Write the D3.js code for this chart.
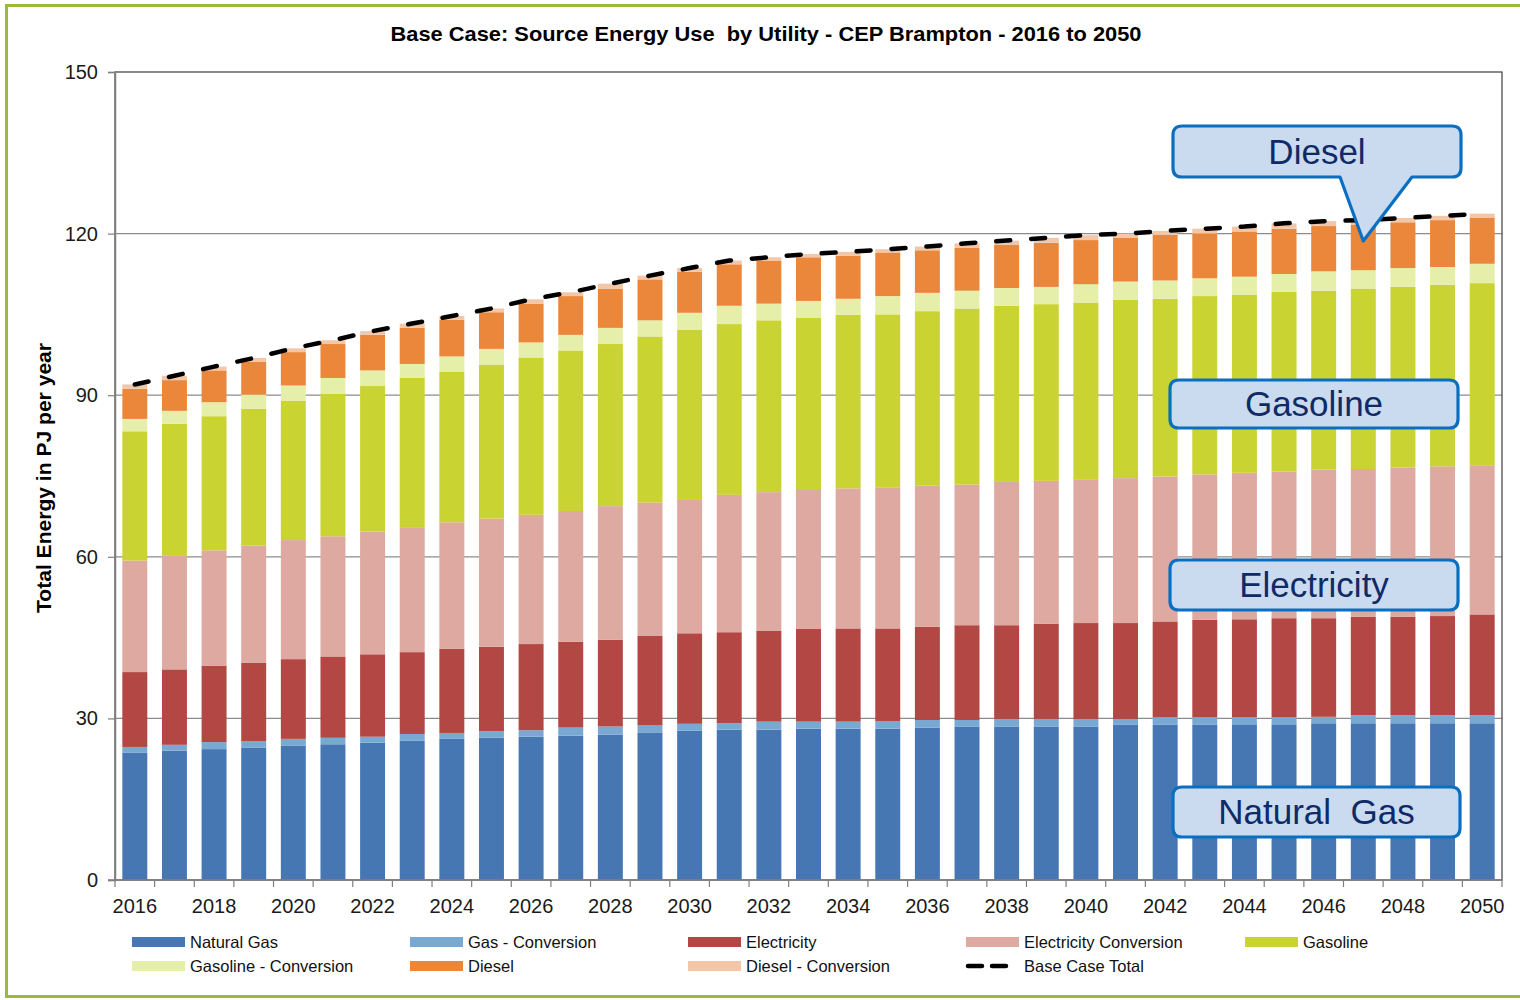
<!DOCTYPE html>
<html>
<head>
<meta charset="utf-8">
<script src="https://cdn.jsdelivr.net/npm/d3@7"></script>
<style>
  html, body { margin: 0; padding: 0; background: #fff; }
  svg { display: block; font-family: "Liberation Sans", Arial, sans-serif; }
</style>
</head>
<body>
<svg id="chart" width="1520" height="1000"></svg>
<script>
// Years shown on the category axis
const years = d3.range(2016, 2051);

// Source energy by utility, PJ per year
const naturalGas = [23.6,24.0,24.3,24.6,24.9,25.2,25.5,25.9,26.2,26.4,26.6,26.8,27.0,27.4,27.7,27.9,27.9,28.1,28.1,28.1,28.3,28.5,28.5,28.5,28.5,28.8,28.8,28.8,28.9,28.9,29.1,29.1,29.1,29.1,29.1];
const gasConversion = [1.1,1.1,1.3,1.2,1.3,1.2,1.1,1.2,1.1,1.2,1.2,1.5,1.5,1.3,1.3,1.2,1.5,1.3,1.3,1.4,1.4,1.2,1.4,1.4,1.4,1.1,1.4,1.4,1.3,1.3,1.2,1.5,1.5,1.5,1.5];
const electricity = [13.9,14.0,14.2,14.5,14.8,15.1,15.3,15.2,15.6,15.7,16.0,15.9,16.1,16.6,16.8,16.9,16.9,17.2,17.3,17.2,17.3,17.6,17.4,17.7,17.8,17.8,17.8,18.1,18.2,18.4,18.3,18.3,18.3,18.4,18.7];
const electricityConversion = [20.7,21.2,21.4,21.8,22.1,22.3,22.8,23.2,23.5,23.8,24.0,24.3,24.8,24.8,24.9,25.5,25.7,25.8,26.0,26.2,26.2,26.1,26.6,26.5,26.7,26.9,26.9,27.0,27.2,27.2,27.6,27.4,27.7,27.8,27.7];
const gasoline = [24.0,24.4,24.9,25.4,25.9,26.5,27.0,27.7,28.0,28.6,29.2,29.8,30.1,30.8,31.4,31.7,31.9,32.0,32.2,32.1,32.4,32.7,32.7,32.8,32.8,33.1,33.0,33.1,33.0,33.4,33.2,33.5,33.5,33.7,33.8];
const gasolineConversion = [2.3,2.4,2.6,2.6,2.8,2.9,2.9,2.6,2.8,2.9,2.8,2.9,3.0,3.0,3.2,3.4,3.1,3.1,3.0,3.4,3.4,3.3,3.3,3.2,3.4,3.4,3.4,3.3,3.4,3.3,3.6,3.4,3.5,3.3,3.6];
const diesel = [5.6,5.7,5.9,6.1,6.2,6.3,6.6,6.7,6.8,6.8,7.2,7.2,7.3,7.6,7.6,7.7,8.0,8.1,8.0,8.1,7.9,8.0,8.0,8.2,8.2,8.1,8.5,8.3,8.4,8.4,8.4,8.4,8.5,8.7,8.5];
const dieselConversion = [0.8,0.8,0.7,0.7,0.7,0.7,0.7,0.8,0.7,0.7,0.8,0.7,0.9,0.7,0.7,0.7,0.6,0.6,0.7,0.6,0.7,0.8,0.8,0.9,0.9,0.8,0.7,0.9,0.9,1.0,0.9,0.9,0.8,0.8,0.8];

// Series names in stacking order, with their fill colours
const seriesNames = ["Natural Gas","Gas - Conversion","Electricity","Electricity Conversion","Gasoline","Gasoline - Conversion","Diesel","Diesel - Conversion"];
const seriesValues = [naturalGas, gasConversion, electricity, electricityConversion, gasoline, gasolineConversion, diesel, dieselConversion];
const seriesColors = ["#4677B3","#79A9D3","#B24744","#DDA9A0","#C9D331","#E6EFA9","#EB873B","#F2C6A6"];

const yTicks = [0, 30, 60, 90, 120, 150];
const xLabelYears = years.filter(y => y % 2 === 0);

const titleText = "Base Case: Source Energy Use  by Utility - CEP Brampton - 2016 to 2050";
const yTitleText = "Total Energy in PJ per year";
const totalName = "Base Case Total";

// Callout labels drawn over the plot
const callouts = [
  { text: "Diesel", x0: 1173, y0: 126, x1: 1461, y1: 177, pointer: { bx0: 1340, bx1: 1412, year: 2047 } },
  { text: "Gasoline", x0: 1170, y0: 380, x1: 1458, y1: 428 },
  { text: "Electricity", x0: 1170, y0: 560, x1: 1458, y1: 610 },
  { text: "Natural  Gas", x0: 1173, y0: 787, x1: 1460, y1: 837 }
];

// Table built from the arrays for d3.stack
const table = years.map((yr, i) => {
  const row = { year: yr };
  seriesNames.forEach((n, k) => row[n] = seriesValues[k][i]);
  row.total = d3.sum(seriesValues, s => s[i]);
  return row;
});

const svg = d3.select("#chart");
const plot = { left: 115, right: 1502, top: 72, bottom: 880 };

// Outer frame
svg.append("rect")
  .attr("x", 6.5).attr("y", 5.5)
  .attr("width", 1530).attr("height", 991)
  .attr("fill", "none").attr("stroke", "#9BBB34").attr("stroke-width", 3);

const x = d3.scaleBand().domain(years).range([plot.left, plot.right])
  .paddingInner(0.37).paddingOuter(0.185);
const y = d3.scaleLinear().domain([0, 150]).range([plot.bottom, plot.top]);
const step = x.step();

// Horizontal gridlines
svg.append("g").selectAll("line")
  .data(yTicks.filter(t => t > 0 && t < 150))
  .join("line")
  .attr("x1", plot.left).attr("x2", plot.right)
  .attr("y1", d => y(d)).attr("y2", d => y(d))
  .attr("stroke", "#8C8C8C").attr("stroke-width", 1.2);

// Plot-area border
svg.append("rect")
  .attr("x", plot.left).attr("y", y(150))
  .attr("width", plot.right - plot.left).attr("height", y(0) - y(150))
  .attr("fill", "none").attr("stroke", "#3c3c3c").attr("stroke-width", 1.2);

// Stacked bars
const stacked = d3.stack().keys(seriesNames)(table);
svg.append("g").selectAll("g")
  .data(stacked)
  .join("g")
  .attr("fill", (d, i) => seriesColors[i])
  .selectAll("rect")
  .data(d => d)
  .join("rect")
  .attr("x", d => x(d.data.year))
  .attr("width", x.bandwidth())
  .attr("y", d => y(d[1]))
  .attr("height", d => y(d[0]) - y(d[1]));

// Y axis
const yAxis = svg.append("g")
  .attr("transform", `translate(${plot.left},0)`)
  .call(d3.axisLeft(y).tickValues(yTicks).tickSize(7).tickPadding(10));
yAxis.select(".domain").attr("stroke", "#7f7f7f").attr("stroke-width", 1.5);
yAxis.selectAll(".tick line").attr("stroke", "#7f7f7f").attr("stroke-width", 1.2);
yAxis.selectAll(".tick text")
  .attr("font-size", 20).attr("fill", "#1a1a1a")
  .attr("font-family", "Liberation Sans, Arial, sans-serif");

// X axis: baseline, boundary ticks, labels for even years
const xg = svg.append("g");
xg.append("line")
  .attr("x1", plot.left - 7).attr("x2", plot.right)
  .attr("y1", plot.bottom).attr("y2", plot.bottom)
  .attr("stroke", "#7f7f7f").attr("stroke-width", 1.5);
const boundaries = years.map(yr => x(yr) + x.bandwidth() / 2 - step / 2).concat([plot.right]);
xg.selectAll("line.tk")
  .data(boundaries)
  .join("line")
  .attr("class", "tk")
  .attr("x1", d => d).attr("x2", d => d)
  .attr("y1", plot.bottom).attr("y2", plot.bottom + 7)
  .attr("stroke", "#7f7f7f").attr("stroke-width", 1.2);
xg.selectAll("text")
  .data(xLabelYears)
  .join("text")
  .attr("x", d => x(d) + x.bandwidth() / 2)
  .attr("y", plot.bottom + 33)
  .attr("text-anchor", "middle")
  .attr("font-size", 20).attr("fill", "#1a1a1a")
  .text(d => d);

// Base case total line
const line = d3.line()
  .x(d => x(d.year) + x.bandwidth() / 2)
  .y(d => y(d.total));
svg.append("path")
  .datum(table)
  .attr("d", line)
  .attr("fill", "none")
  .attr("stroke", "#000")
  .attr("stroke-width", 4.5)
  .attr("stroke-linecap", "round")
  .attr("stroke-dasharray", "14,21");

// Title
svg.append("text")
  .attr("x", 766).attr("y", 41)
  .attr("text-anchor", "middle")
  .attr("font-size", 21).attr("font-weight", "bold")
  .attr("fill", "#000")
  .attr("textLength", 751)
  .attr("lengthAdjust", "spacingAndGlyphs")
  .style("white-space", "pre")
  .text(titleText);

// Y axis title
svg.append("text")
  .attr("transform", "translate(51,478) rotate(-90)")
  .attr("text-anchor", "middle")
  .attr("font-size", 20.5).attr("font-weight", "bold")
  .attr("fill", "#000")
  .attr("textLength", 270)
  .attr("lengthAdjust", "spacingAndGlyphs")
  .text(yTitleText);

// Callouts
const cg = svg.append("g");
callouts.forEach(c => {
  const r = 9;
  let path;
  if (c.pointer) {
    const tipX = x(c.pointer.year) + x.bandwidth() / 2;
    const tipY = 241;
    path = `M${c.x0 + r},${c.y0} H${c.x1 - r} Q${c.x1},${c.y0} ${c.x1},${c.y0 + r} V${c.y1 - r} Q${c.x1},${c.y1} ${c.x1 - r},${c.y1}` +
      ` H${c.pointer.bx1} L${tipX},${tipY} L${c.pointer.bx0},${c.y1}` +
      ` H${c.x0 + r} Q${c.x0},${c.y1} ${c.x0},${c.y1 - r} V${c.y0 + r} Q${c.x0},${c.y0} ${c.x0 + r},${c.y0} Z`;
  } else {
    path = `M${c.x0 + r},${c.y0} H${c.x1 - r} Q${c.x1},${c.y0} ${c.x1},${c.y0 + r} V${c.y1 - r} Q${c.x1},${c.y1} ${c.x1 - r},${c.y1}` +
      ` H${c.x0 + r} Q${c.x0},${c.y1} ${c.x0},${c.y1 - r} V${c.y0 + r} Q${c.x0},${c.y0} ${c.x0 + r},${c.y0} Z`;
  }
  cg.append("path")
    .attr("d", path)
    .attr("fill", "#CADAEF")
    .attr("stroke", "#0A6FC0")
    .attr("stroke-width", 3.2)
    .attr("stroke-linejoin", "round");
  cg.append("text")
    .attr("x", (c.x0 + c.x1) / 2)
    .attr("y", (c.y0 + c.y1) / 2 + 12)
    .attr("text-anchor", "middle")
    .attr("font-size", 35)
    .attr("fill", "#0F2A66")
    .style("white-space", "pre")
    .text(c.text);
});

// Legend
const legendCols = [132, 410, 688, 966, 1245];
const legendRows = [942, 966];
const legendItems = seriesNames.map((n, i) => ({ name: n, color: seriesColors[i], type: "bar" }))
  .concat([{ name: totalName, type: "line" }]);
const lg = svg.append("g");
legendItems.forEach((it, i) => {
  const cx = legendCols[i % 5];
  const cy = legendRows[Math.floor(i / 5)];
  if (it.type === "bar") {
    lg.append("rect")
      .attr("x", cx).attr("y", cy - 5)
      .attr("width", 53).attr("height", 10)
      .attr("fill", it.color);
  } else {
    lg.append("line")
      .attr("x1", cx + 2).attr("x2", cx + 50)
      .attr("y1", cy).attr("y2", cy)
      .attr("stroke", "#000").attr("stroke-width", 4.5)
      .attr("stroke-linecap", "round")
      .attr("stroke-dasharray", "14,10");
  }
  lg.append("text")
    .attr("x", cx + 58).attr("y", cy + 6)
    .attr("font-size", 16.5).attr("fill", "#111")
    .text(it.name);
});
</script>
</body>
</html>
